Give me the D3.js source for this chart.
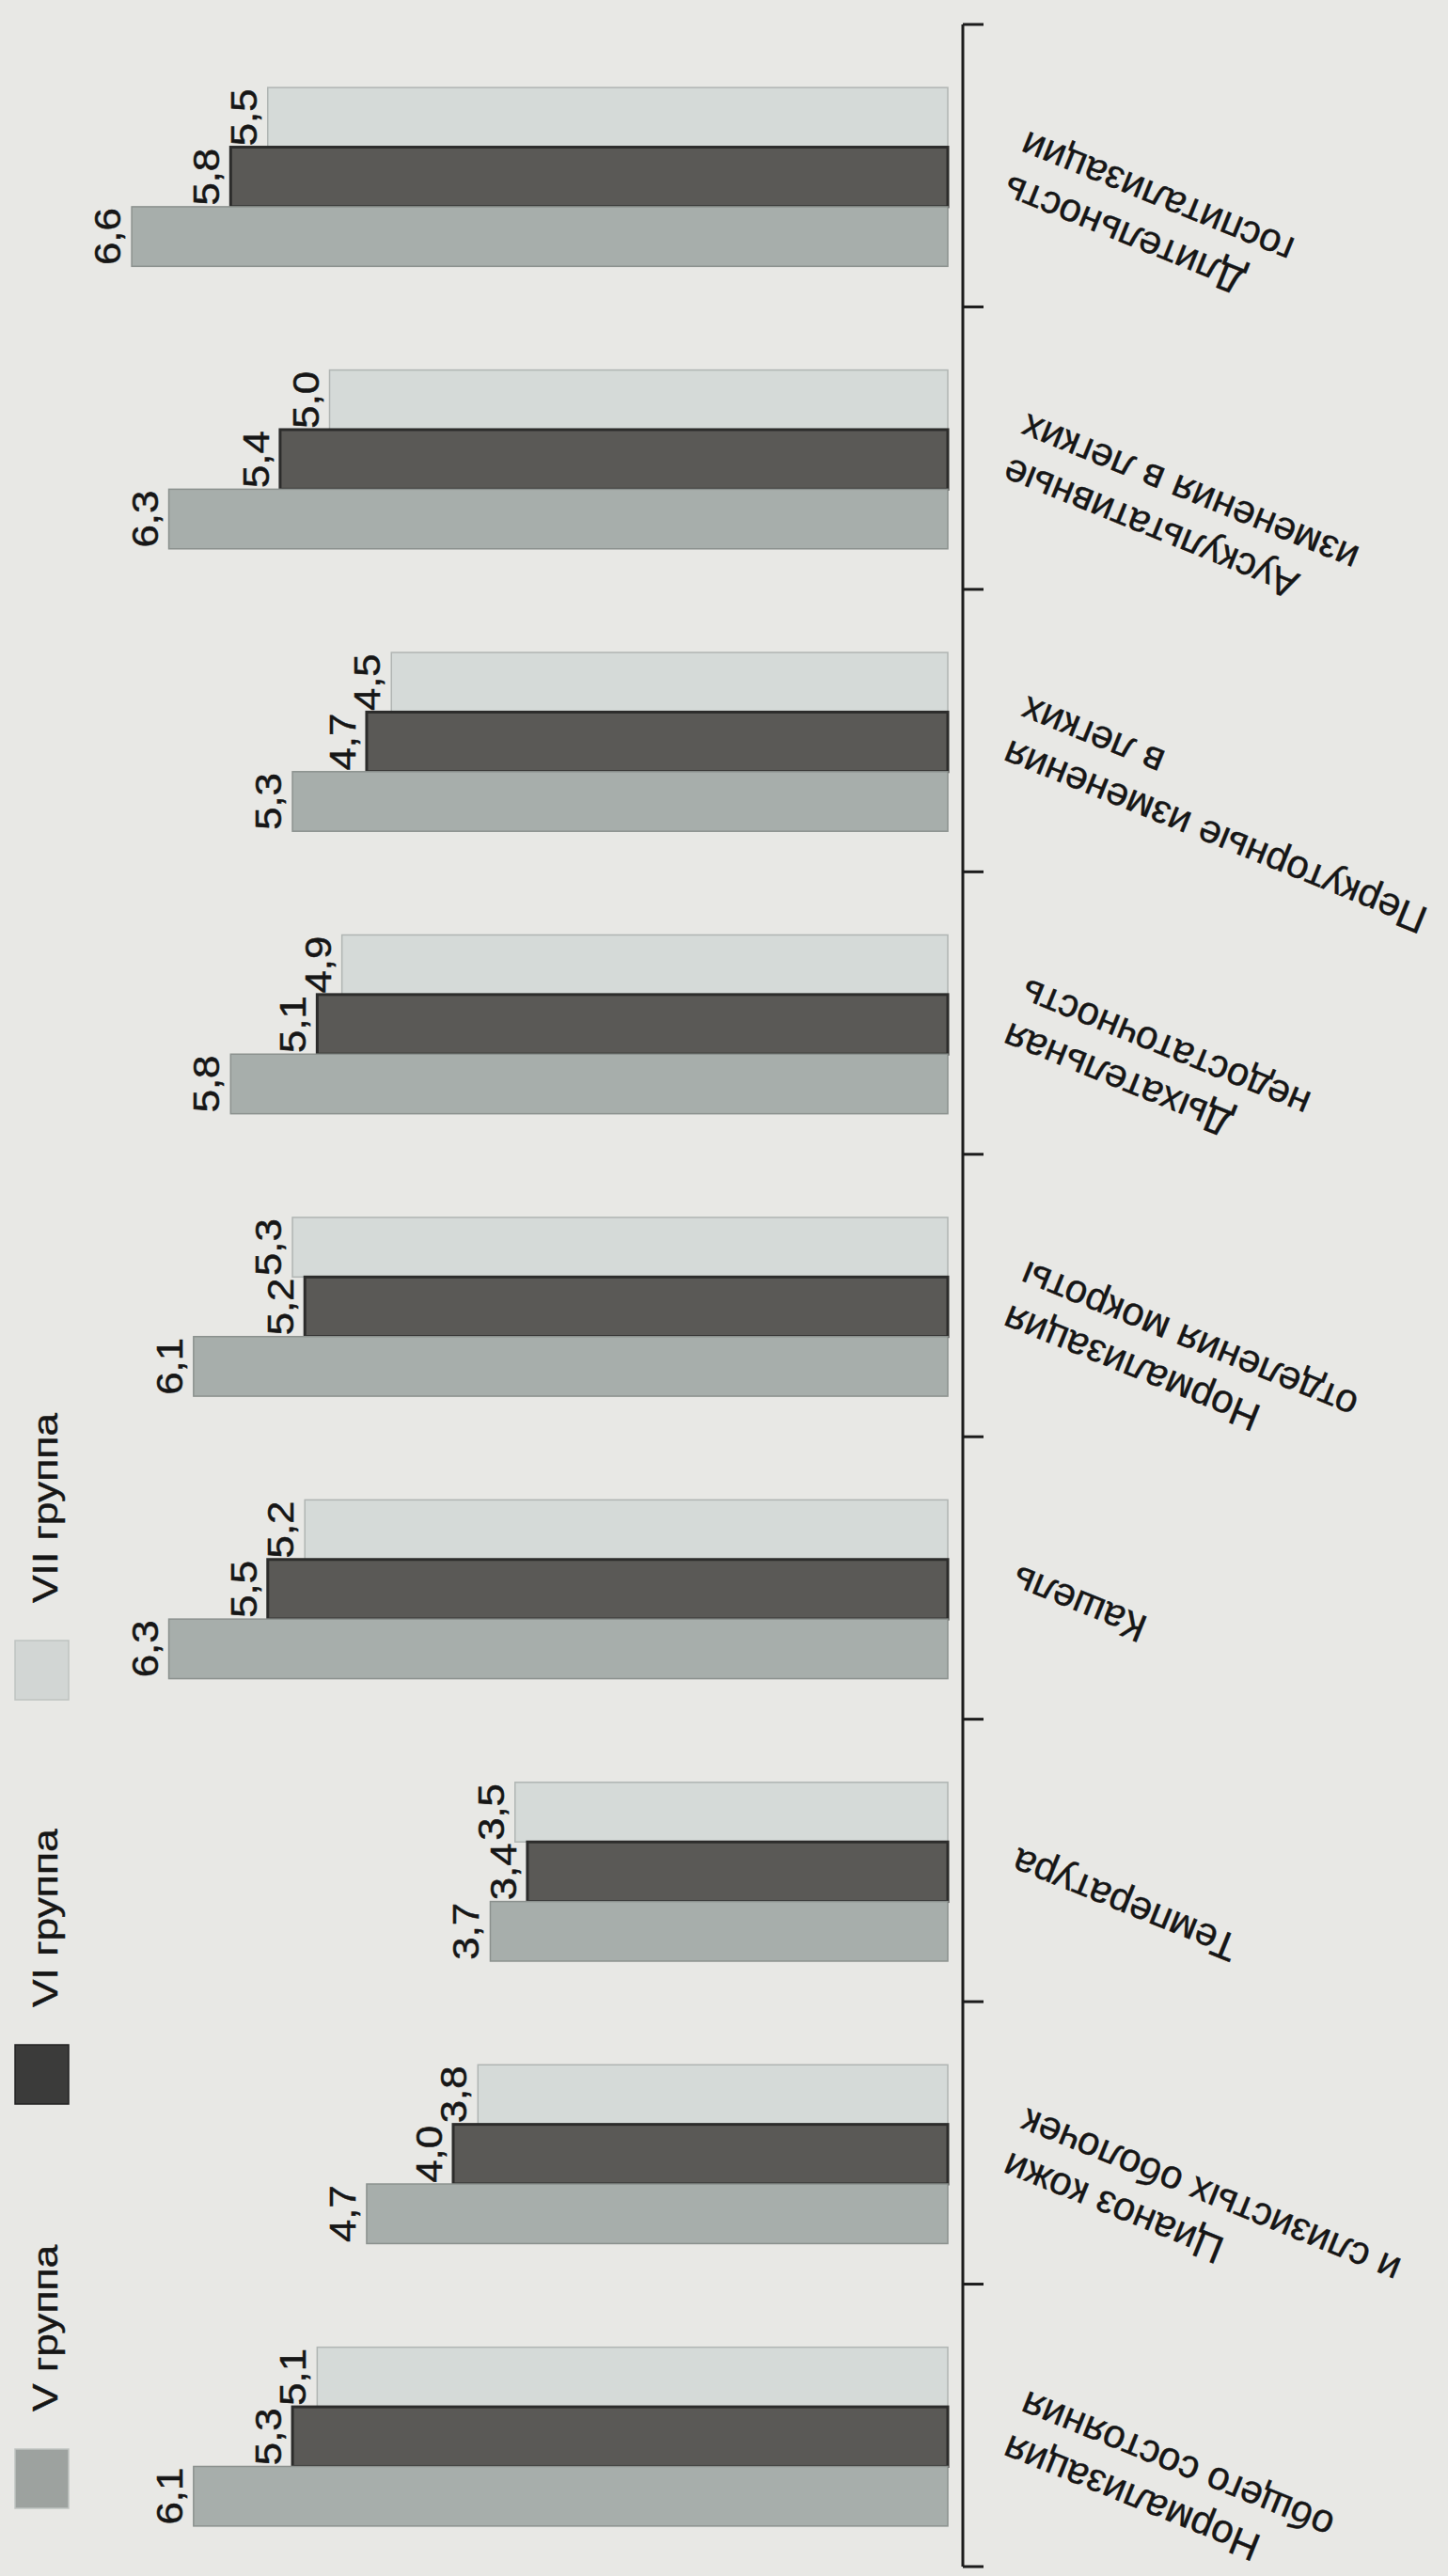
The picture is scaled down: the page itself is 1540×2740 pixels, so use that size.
<!DOCTYPE html>
<html lang="ru">
<head>
<meta charset="utf-8">
<title>Сроки нормализации клинических показателей по группам</title>
<script src="https://cdn.jsdelivr.net/npm/d3@7"></script>
<style>
  html, body { margin: 0; padding: 0; background: #e8e8e5; }
  svg { display: block; }
  text { font-family: "Liberation Sans", Arial, Helvetica, sans-serif; fill: #161616; }
</style>
</head>
<body>
<svg id="chart" width="1540" height="2740"></svg>
<script>
// Clinical indicators (category labels; "\n" marks a line break)
const categories = [
  "Длительность\nгоспитализации",
  "Аускультативные\nизменения в легких",
  "Перкуторные изменения\nв легких",
  "Дыхательная\nнедостаточность",
  "Нормализация\nотделения мокроты",
  "Кашель",
  "Температура",
  "Цианоз кожи\nи слизистых оболочек",
  "Нормализация\nобщего состояния"
];

// Series names (legend order) and the stacking order of bars inside a group
const seriesNames = ["V группа", "VI группа", "VII группа"];
const barOrder = ["VII группа", "VI группа", "V группа"];

// Values per group, same order as categories
const groupV   = [6.6, 6.3, 5.3, 5.8, 6.1, 6.3, 3.7, 4.7, 6.1];
const groupVI  = [5.8, 5.4, 4.7, 5.1, 5.2, 5.5, 3.4, 4.0, 5.3];
const groupVII = [5.5, 5.0, 4.5, 4.9, 5.3, 5.2, 3.5, 3.8, 5.1];

const seriesFill   = { "V группа": "#a7aeab", "VI группа": "#5a5956", "VII группа": "#d5dad8" };
const seriesStroke = { "V группа": "#8b918e", "VI группа": "#2c2c2b", "VII группа": "#b0b5b3" };
const swatchFill   = { "V группа": "#9da29f", "VI группа": "#3b3b3a", "VII группа": "#d2d6d4" };

const valuesBySeries = { "V группа": groupV, "VI группа": groupVI, "VII группа": groupVII };

const rows = categories.map((c, i) => ({
  cat: c,
  bars: barOrder.map(s => ({ series: s, value: valuesBySeries[s][i] }))
}));

const svg = d3.select("#chart");
const W = 1540, H = 2740;

svg.append("rect").attr("width", W).attr("height", H).attr("fill", "#e8e8e5");

// Layout
const axisX = 1024;          // category axis line
const baseX = 1008;          // where bars start (small gap before the axis)
const unitPx = 131.5;        // pixels per value unit
const barShift = 12;

const y = d3.scaleBand()
  .domain(categories)
  .range([26, 2730])
  .paddingInner(0.367)
  .paddingOuter(0.1835);

const sub = d3.scaleBand()
  .domain(barOrder)
  .range([0, y.bandwidth()])
  .padding(0);

const x = d3.scaleLinear()
  .domain([0, 7])
  .range([baseX, baseX - 7 * unitPx]);

const fmt = v => d3.format(".1f")(v).replace(".", ",");

// Bars
const groups = svg.append("g").attr("class", "bars")
  .selectAll("g")
  .data(rows)
  .join("g")
  .attr("transform", d => `translate(0,${y(d.cat) + barShift})`);

groups.selectAll("rect")
  .data(d => d.bars)
  .join("rect")
  .attr("x", d => x(d.value))
  .attr("y", d => sub(d.series))
  .attr("width", d => x(0) - x(d.value))
  .attr("height", sub.bandwidth())
  .attr("fill", d => seriesFill[d.series])
  .attr("stroke", d => seriesStroke[d.series])
  .attr("stroke-width", d => d.series === "VI группа" ? 3 : 1.5);

// Value labels, reading upward, just beyond each bar end
groups.selectAll("text")
  .data(d => d.bars)
  .join("text")
  .attr("transform", d => `translate(${x(d.value) - 12},${sub(d.series) + sub.bandwidth() / 2}) rotate(-90) scale(1.15,1)`)
  .attr("text-anchor", "middle")
  .attr("font-size", 38)
  .attr("stroke", "#161616")
  .attr("stroke-width", 0.5)
  .text(d => fmt(d.value));

// Category axis: line with ticks at band boundaries
const axis = svg.append("g").attr("class", "axis");
const step = y.step();
const bounds = d3.range(categories.length + 1).map(k => y.range()[0] + k * step);

axis.append("line")
  .attr("x1", axisX).attr("x2", axisX)
  .attr("y1", bounds[0]).attr("y2", bounds[bounds.length - 1])
  .attr("stroke", "#1c1c1c").attr("stroke-width", 3);

axis.selectAll("line.tick")
  .data(bounds)
  .join("line")
  .attr("class", "tick")
  .attr("x1", axisX).attr("x2", axisX + 22)
  .attr("y1", d => d).attr("y2", d => d)
  .attr("stroke", "#1c1c1c").attr("stroke-width", 3);

// Category labels, slanted
const labelSize = 42;
const lineH = labelSize * 1.2;
const labels = svg.append("g").attr("class", "cat-labels")
  .selectAll("g")
  .data(categories)
  .join("g")
  .attr("transform", d => `translate(${axisX + 54},${y(d) + y.bandwidth() / 2}) rotate(202)`);

labels.append("text")
  .attr("text-anchor", "end")
  .attr("font-size", labelSize)
  .attr("stroke", "#161616")
  .attr("stroke-width", 0.4)
  .each(function (d) {
    const lines = d.split("\n");
    const t = d3.select(this);
    lines.forEach((ln, i) => {
      t.append("tspan")
        .attr("x", 0)
        .attr("y", (i - (lines.length - 1) / 2) * lineH + labelSize * 0.35)
        .text(ln);
    });
  });

// Legend: swatch with the series name reading upward above it
const legendStep = 430;
const legendBottomTop = 2605;
const legend = svg.append("g").attr("class", "legend")
  .selectAll("g")
  .data(seriesNames)
  .join("g")
  .attr("transform", (d, i) => `translate(0,${legendBottomTop - i * legendStep})`);

legend.append("rect")
  .attr("x", 16).attr("y", 0)
  .attr("width", 57).attr("height", 63)
  .attr("fill", d => swatchFill[d])
  .attr("stroke", d => d === "VI группа" ? "#222" : "#bfc3c1")
  .attr("stroke-width", 1.5);

legend.append("text")
  .attr("transform", "translate(61,-40) rotate(-90) scale(1.2,1)")
  .attr("text-anchor", "start")
  .attr("font-size", 37)
  .attr("stroke", "#161616")
  .attr("stroke-width", 0.4)
  .text(d => d);
</script>
</body>
</html>
